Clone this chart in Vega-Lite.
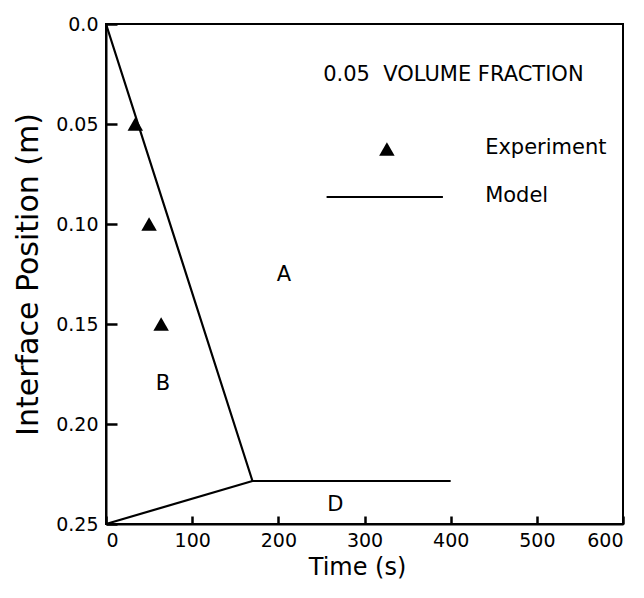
{
  "$schema": "https://vega.github.io/schema/vega-lite/v6.json",
  "width": 517,
  "height": 500,
  "autosize": "none",
  "padding": {"left": 106, "top": 24, "right": 21, "bottom": 74},
  "background": "white",
  "config": {
    "view": {"stroke": "black", "strokeWidth": 2},
    "font": "DejaVu Sans",
    "axis": {
      "grid": false,
      "zindex": 1,
      "domainColor": "black",
      "domainWidth": 2,
      "tickColor": "black",
      "tickWidth": 2.5,
      "labelColor": "black",
      "titleColor": "black",
      "labelFont": "DejaVu Sans",
      "titleFont": "DejaVu Sans",
      "labelFontSize": 19,
      "titleFontWeight": "normal"
    }
  },
  "datasets": {
    "model": [
      {"seg": "m1", "t": 0, "pos": 0.0},
      {"seg": "m1", "t": 170, "pos": 0.2285},
      {"seg": "m1", "t": 400, "pos": 0.2285},
      {"seg": "m2", "t": 0, "pos": 0.25},
      {"seg": "m2", "t": 170, "pos": 0.2285},
      {"seg": "legend", "t": 256, "pos": 0.0865},
      {"seg": "legend", "t": 391, "pos": 0.0865}
    ],
    "exp": [
      {"t": 34, "pos": 0.05},
      {"t": 50, "pos": 0.10},
      {"t": 64, "pos": 0.15},
      {"t": 326, "pos": 0.0625}
    ],
    "regions": [
      {"t": 206.5, "pos": 0.1255, "txt": "A"},
      {"t": 66, "pos": 0.18, "txt": "B"},
      {"t": 266, "pos": 0.2405, "txt": "D"}
    ],
    "labels": [
      {"t": 252, "pos": 0.0255, "txt": "0.05\u00a0\u00a0VOLUME FRACTION"},
      {"t": 440, "pos": 0.062, "txt": "Experiment"},
      {"t": 440, "pos": 0.086, "txt": "Model"}
    ]
  },
  "encoding": {
    "x": {
      "field": "t", "type": "quantitative",
      "scale": {"domain": [0, 600], "nice": false, "zero": false},
      "axis": {"title": "Time (s)", "titleFontSize": 24, "titleX": 251, "values": [0, 100, 200, 300, 400, 500, 600], "tickSize": -8, "labelPadding": 15, "titlePadding": 5}
    },
    "y": {
      "field": "pos", "type": "quantitative",
      "scale": {"domain": [0, 0.25], "reverse": true, "nice": false, "zero": false},
      "axis": {"title": "Interface Position (m)", "titleFontSize": 30, "values": [0, 0.05, 0.1, 0.15, 0.2, 0.25],
        "labelExpr": "datum.value == 0 ? '0.0' : format(datum.value, '.2f')", "tickSize": -11, "labelPadding": 19, "titlePadding": 12}
    }
  },
  "layer": [
    {
      "data": {"name": "model"},
      "mark": {"type": "line", "color": "black", "strokeWidth": 2.2},
      "encoding": {"detail": {"field": "seg"}}
    },
    {
      "data": {"name": "exp"},
      "mark": {"type": "point", "shape": "triangle-up", "filled": true, "color": "black", "size": 240, "opacity": 1}
    },
    {
      "data": {"name": "regions"},
      "mark": {"type": "text", "align": "center", "baseline": "middle", "color": "black", "font": "DejaVu Sans", "fontSize": 21},
      "encoding": {"text": {"field": "txt"}}
    },
    {
      "data": {"name": "labels"},
      "mark": {"type": "text", "align": "left", "baseline": "middle", "color": "black", "font": "DejaVu Sans", "fontSize": 21},
      "encoding": {"text": {"field": "txt"}}
    }
  ]
}
